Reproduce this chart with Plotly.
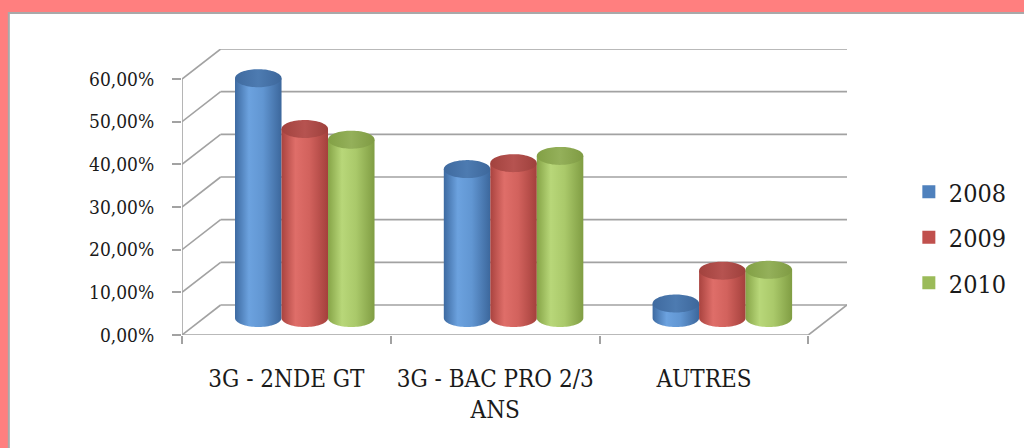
import numpy as np
import plotly.graph_objects as go

# ---- data -------------------------------------------------------------
categories = ["3G - 2NDE GT", "3G - BAC PRO 2/3<br>ANS", "AUTRES"]
years = ["2008", "2009", "2010"]
values_2008 = [56.2, 34.9, 3.4]
values_2009 = [44.3, 36.3, 11.1]
values_2010 = [41.8, 38.0, 11.3]
y_ticks = [0, 10, 20, 30, 40, 50, 60]
y_tick_labels = ["0,00%", "10,00%", "20,00%", "30,00%", "40,00%", "50,00%", "60,00%"]

series = [values_2008, values_2009, values_2010]

# ---- styling ----------------------------------------------------------
FONT = "DejaVu Serif Condensed, Liberation Serif, serif"
GRID = "#a2a2a2"
body_scales = [
    [[0, "#3d6aa1"], [0.3, "#6ca2df"], [0.6, "#6196d2"], [1, "#3c679c"]],
    [[0, "#a9433f"], [0.3, "#df6e69"], [0.6, "#d2625d"], [1, "#a4403c"]],
    [[0, "#86a447"], [0.3, "#b8d779"], [0.6, "#aac96a"], [1, "#809d43"]],
]
top_scales = [
    [[0, "#3f6a9f"], [0.5, "#4d7bb1"], [1, "#3d679b"]],
    [[0, "#a2423e"], [0.5, "#b65350"], [1, "#9e403c"]],
    [[0, "#82a045"], [0.5, "#94b05a"], [1, "#7f9b43"]],
]
legend_colors = ["#4f81bd", "#c0504d", "#9bbb59"]

# 3-D box geometry (axis units: categories on x, percent on y)
DEPTH_X = 0.185     # back wall offset along x
DEPTH_Y = 7.03      # back wall offset along y
MID_X = 0.088       # column row sits half-way into the box
MID_Y = 3.98
HALF_W = 0.1114     # cylinder radius (x units)
ELL_B = 2.11        # cylinder ellipse half-height (y units)
STEP = 0.2227       # distance between neighbouring cylinders
Y_TOP = 60

fig = go.Figure()

theta_half = np.linspace(np.pi, 2 * np.pi, 40)
theta_full = np.linspace(0, 2 * np.pi, 80)

for s_idx, vals in enumerate(series):
    for c_idx, v in enumerate(vals):
        xc = c_idx + MID_X + (s_idx - 1) * STEP
        yb = MID_Y
        yt = MID_Y + v
        bx = [xc - HALF_W] + list(xc + HALF_W * np.cos(theta_half)) + [xc + HALF_W, xc - HALF_W]
        by = [yt] + list(yb + ELL_B * np.sin(theta_half)) + [yt, yt]
        fig.add_trace(go.Scatter(
            x=bx, y=by, mode="none", fill="toself",
            fillgradient=dict(type="horizontal", colorscale=body_scales[s_idx]),
            showlegend=False, hoverinfo="skip",
        ))
        fig.add_trace(go.Scatter(
            x=xc + HALF_W * np.cos(theta_full), y=yt + ELL_B * np.sin(theta_full),
            mode="none", fill="toself",
            fillgradient=dict(type="horizontal", colorscale=top_scales[s_idx]),
            showlegend=False, hoverinfo="skip",
        ))

# legend entries
for s_idx, name in enumerate(years):
    fig.add_trace(go.Scatter(
        x=[None], y=[None], mode="markers", name=name, legendgroup=name,
        marker=dict(symbol="square", size=13, color=legend_colors[s_idx]),
    ))

# ---- box: walls, floor and gridlines ------------------------------------
shapes = []
x_left, x_right = -0.5, len(categories) - 0.5
for t in y_ticks:
    # back wall gridline
    shapes.append(dict(type="line", xref="x", yref="y", layer="below",
                       x0=x_left + DEPTH_X, x1=x_right + DEPTH_X,
                       y0=t + DEPTH_Y, y1=t + DEPTH_Y,
                       line=dict(color=GRID, width=1.6)))
    # side wall slant
    shapes.append(dict(type="line", xref="x", yref="y", layer="below",
                       x0=x_left, x1=x_left + DEPTH_X, y0=t, y1=t + DEPTH_Y,
                       line=dict(color=GRID, width=1.6)))
# floor right edge and front edge
shapes.append(dict(type="line", xref="x", yref="y", layer="below",
                   x0=x_right, x1=x_right + DEPTH_X, y0=0, y1=DEPTH_Y,
                   line=dict(color=GRID, width=1.6)))
shapes.append(dict(type="line", xref="x", yref="y", layer="below",
                   x0=x_left, x1=x_right, y0=0, y1=0,
                   line=dict(color=GRID, width=1.6)))
# front value axis
shapes.append(dict(type="line", xref="x", yref="y", layer="below",
                   x0=x_left, x1=x_left, y0=0, y1=Y_TOP,
                   line=dict(color=GRID, width=1.6)))
# white sheet inside the pink frame
shapes.insert(0, dict(type="rect", xref="paper", yref="paper", layer="below",
                      x0=-0.2604, x1=1.4, y0=-0.6, y1=1.1259,
                      fillcolor="white", line=dict(color="#a9a9a9", width=2)))

fig.update_layout(
    width=1024, height=448,
    margin=dict(l=182, r=170, t=49, b=113),
    paper_bgcolor="#ff7f7f",
    plot_bgcolor="rgba(0,0,0,0)",
    shapes=shapes,
    showlegend=True,
    legend=dict(x=1.093, xanchor="left", y=0.58, yanchor="top",
                font=dict(family=FONT, size=25, color="#1a1a1a"),
                tracegroupgap=10, traceorder="grouped",
                bgcolor="rgba(0,0,0,0)"),
    xaxis=dict(range=[x_left, x_right + DEPTH_X], showgrid=False, zeroline=False,
               showline=False, tickmode="array", tickvals=[0, 1, 2],
               ticktext=categories, ticks="",
               tickfont=dict(family=FONT, size=24, color="#1a1a1a"),
               ticklabelstandoff=27,
               minor=dict(tickmode="array", tickvals=[-0.5, 0.5, 1.5, 2.5],
                          ticks="outside", ticklen=8, tickwidth=1.6, tickcolor=GRID)),
    yaxis=dict(range=[0, Y_TOP + DEPTH_Y], showgrid=False, zeroline=False,
               showline=False, tickmode="array", tickvals=y_ticks,
               ticktext=y_tick_labels, ticks="outside", ticklen=9,
               tickwidth=1.6, tickcolor=GRID, ticklabelstandoff=14,
               tickfont=dict(family=FONT, size=19, color="#1a1a1a")),
)

fig.write_html("out.html")
